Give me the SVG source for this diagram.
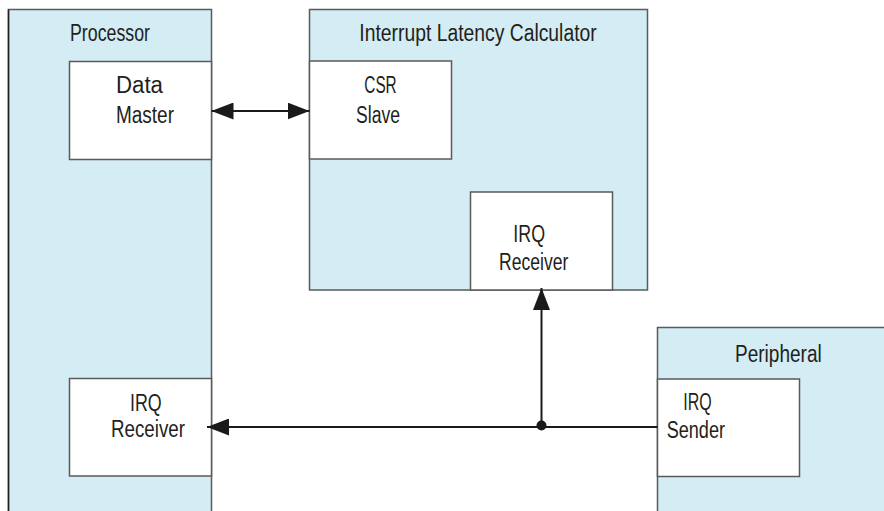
<svg xmlns="http://www.w3.org/2000/svg" width="884" height="511" viewBox="0 0 884 511">
<style>
.outer{fill:#d4ecf3;stroke:#5a5a5a;stroke-width:1.5}
.inner{fill:#ffffff;stroke:#5a5a5a;stroke-width:1.5}
.t{font-family:"Liberation Sans",Arial,sans-serif;font-size:23.5px;fill:#231f20}
.c{fill:none;stroke:#1a1a1a;stroke-width:2}
</style>
<defs>
<marker id="ah" viewBox="0 0 22 17" refX="22" refY="8.5" markerUnits="userSpaceOnUse" markerWidth="22" markerHeight="17" orient="auto-start-reverse">
<path d="M0,0 L22,8.5 L0,17 z" fill="#1a1a1a"/>
</marker>
</defs>
<rect x="0" y="0" width="884" height="511" fill="#ffffff"/>
<g id="processor">
<rect class="outer" x="8.5" y="9.5" width="203" height="520"/>
<line x1="8.5" y1="9.5" x2="8.5" y2="520" stroke="#231f20" stroke-width="1.5"/>
<text class="t" x="70" y="40.7" textLength="80" lengthAdjust="spacingAndGlyphs">Processor</text>
</g>
<g id="data-master">
<rect class="inner" x="69.5" y="61.5" width="142" height="98"/>
<text class="t" x="116" y="93.3" textLength="47" lengthAdjust="spacingAndGlyphs">Data</text>
<text class="t" x="116" y="122.7" textLength="58" lengthAdjust="spacingAndGlyphs">Master</text>
</g>
<g id="processor-irq-receiver">
<rect class="inner" x="69.5" y="378.5" width="142" height="97.5"/>
<text class="t" x="130" y="410.7" textLength="31.7" lengthAdjust="spacingAndGlyphs">IRQ</text>
<text class="t" x="111" y="437.3" textLength="74" lengthAdjust="spacingAndGlyphs">Receiver</text>
</g>
<g id="interrupt-latency-calculator">
<rect class="outer" x="309.5" y="9.5" width="338" height="280.5"/>
<text class="t" x="359.3" y="40.7" textLength="237.4" lengthAdjust="spacingAndGlyphs">Interrupt Latency Calculator</text>
</g>
<g id="csr-slave">
<rect class="inner" x="309.5" y="61" width="142" height="98"/>
<text class="t" x="364.3" y="93.3" textLength="32.4" lengthAdjust="spacingAndGlyphs">CSR</text>
<text class="t" x="356" y="122.7" textLength="44" lengthAdjust="spacingAndGlyphs">Slave</text>
</g>
<g id="ilc-irq-receiver">
<rect class="inner" x="470.5" y="192" width="142" height="98"/>
<text class="t" x="513.3" y="241.7" textLength="31.7" lengthAdjust="spacingAndGlyphs">IRQ</text>
<text class="t" x="499" y="270" textLength="69.3" lengthAdjust="spacingAndGlyphs">Receiver</text>
</g>
<g id="peripheral">
<rect class="outer" x="657.5" y="327.5" width="240" height="200"/>
<text class="t" x="735" y="361.7" textLength="86.7" lengthAdjust="spacingAndGlyphs">Peripheral</text>
</g>
<g id="irq-sender">
<rect class="inner" x="657.5" y="379" width="142" height="97.5"/>
<text class="t" x="683.3" y="410" textLength="28.4" lengthAdjust="spacingAndGlyphs">IRQ</text>
<text class="t" x="666.7" y="438.3" textLength="58.3" lengthAdjust="spacingAndGlyphs">Sender</text>
</g>
<g id="connectors">
<line class="c" x1="211.5" y1="111" x2="309.5" y2="111" marker-start="url(#ah)" marker-end="url(#ah)"/>
<line class="c" x1="657.5" y1="427" x2="207" y2="427" marker-end="url(#ah)"/>
<line class="c" x1="541.5" y1="427" x2="541.5" y2="288" marker-end="url(#ah)"/>
<circle cx="541.5" cy="425.5" r="5" fill="#1a1a1a"/>
</g>
</svg>
